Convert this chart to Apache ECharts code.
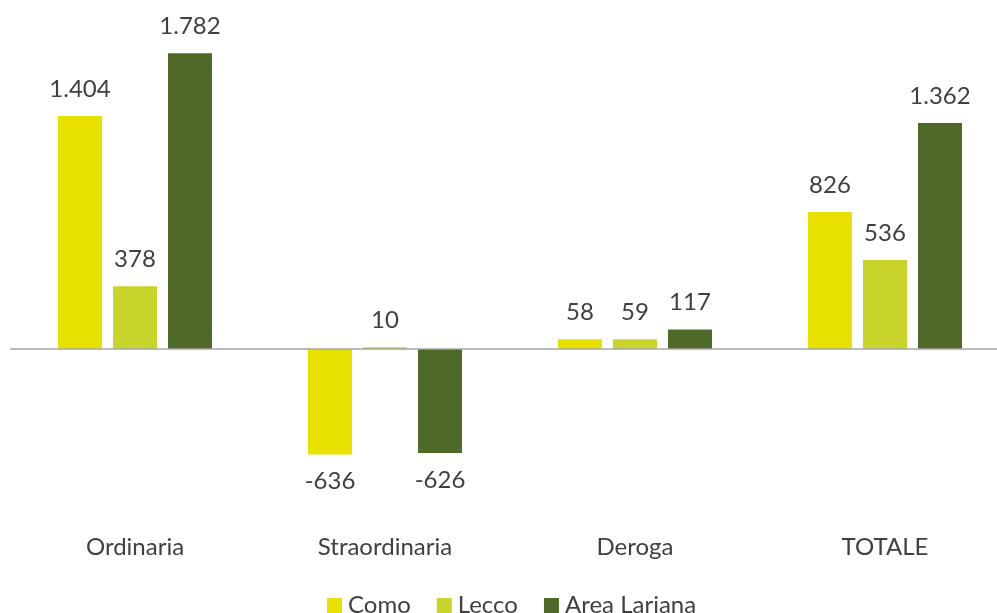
<!DOCTYPE html>
<html>
<head>
<meta charset="utf-8">
<script src="https://cdn.jsdelivr.net/npm/echarts@6/dist/echarts.min.js"></script>
<style>
  html, body { margin: 0; padding: 0; background: #ffffff; }
  #chart { width: 997px; height: 613px; }
</style>
</head>
<body>
<div id="chart"></div>
<script>
// Categorie e valori per area
const categories = ['Ordinaria', 'Straordinaria', 'Deroga', 'TOTALE'];
const como = [1404, -636, 58, 826];
const lecco = [378, 10, 59, 536];
const areaLariana = [1782, -626, 117, 1362];

const seriesNames = ['Como', 'Lecco', 'Area Lariana'];
const seriesColors = ['#E8E000', '#C8D42C', '#4F6A28'];

const FONT = 'Lato';
const TEXT_COLOR = '#404040';

// Formato italiano: punto come separatore delle migliaia
function fmt(v) {
  const s = String(Math.abs(v)).replace(/\B(?=(\d{3})+(?!\d))/g, '.');
  return (v < 0 ? '-' : '') + s;
}

function barData(values) {
  return values.map(v => ({
    value: v,
    label: { position: v < 0 ? 'bottom' : 'top' }
  }));
}

const chart = echarts.init(document.getElementById('chart'));

const series = [como, lecco, areaLariana].map((vals, i) => ({
  name: seriesNames[i],
  type: 'bar',
  data: barData(vals),
  barWidth: 44,
  barGap: '25%',
  itemStyle: { color: seriesColors[i] },
  label: {
    show: true,
    distance: 15,
    fontFamily: FONT,
    fontSize: 24,
    color: TEXT_COLOR,
    formatter: p => fmt(p.value)
  },
  markLine: i === 0 ? {
    silent: true,
    symbol: 'none',
    label: { show: false },
    lineStyle: { color: '#A6A6A6', width: 1.5, type: 'solid' },
    data: [{ yAxis: 0 }]
  } : undefined
}));

chart.setOption({
  animation: false,
  backgroundColor: '#ffffff',
  grid: { left: 10, right: -13, top: 17, height: 498, containLabel: false, outerBoundsMode: 'none' },
  legend: {
    data: seriesNames,
    top: 586,
    left: 322,
    itemWidth: 15,
    itemHeight: 15,
    itemGap: 26,
    icon: 'rect',
    textStyle: {
      fontFamily: FONT,
      fontSize: 24,
      lineHeight: 24,
      color: TEXT_COLOR,
      padding: [0, 0, 5, 1]
    }
  },
  xAxis: {
    type: 'category',
    data: categories,
    axisLine: { show: false },
    axisTick: { show: false },
    axisLabel: { margin: 20, fontFamily: FONT, fontSize: 24, color: TEXT_COLOR }
  },
  yAxis: {
    type: 'value',
    min: -1000,
    max: 2000,
    interval: 500,
    show: false,
    splitLine: { show: false }
  },
  series: series
});
</script>
</body>
</html>
